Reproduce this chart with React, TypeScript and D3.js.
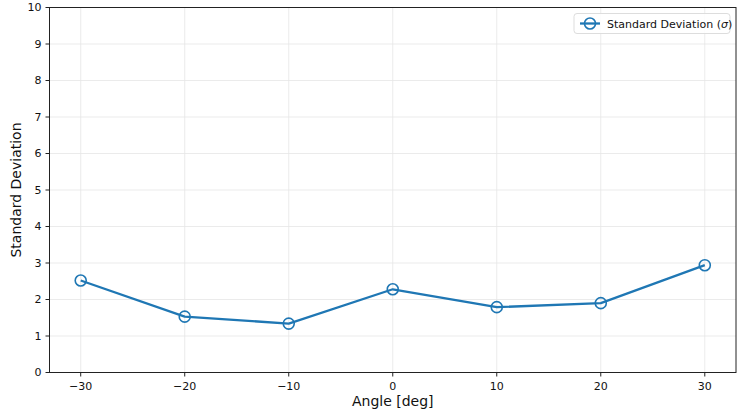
import React from "react";
import { scaleLinear, line } from "d3";

const angles = [-30, -20, -10, 0, 10, 20, 30];
const stdValues = [2.52, 1.53, 1.34, 2.28, 1.79, 1.9, 2.94];
const xTicks = [-30, -20, -10, 0, 10, 20, 30];
const yTicks = [0, 1, 2, 3, 4, 5, 6, 7, 8, 9, 10];

const W = 747;
const H = 419;
const margin = { top: 7.5, right: 11, bottom: 46.5, left: 49.5 };
const BLUE = "#1f77b4";
const FONT = "DejaVu Sans, sans-serif";

export default function App() {
  const iw = W - margin.left - margin.right;
  const ih = H - margin.top - margin.bottom;

  const x = scaleLinear().domain([-33, 33]).range([0, iw]);
  const y = scaleLinear().domain([0, 10]).range([ih, 0]);

  const pts = angles.map((a, i) => [a, stdValues[i]] as [number, number]);
  const path = line<[number, number]>()
    .x((d) => x(d[0]))
    .y((d) => y(d[1]))(pts);

  const fmt = (v: number) => (v < 0 ? "\u2212" + Math.abs(v) : String(v));

  return (
    <svg
      width={W}
      height={H}
      style={{ position: "absolute", left: 0, top: 0, background: "#fff" }}
      fontFamily={FONT}
    >
      <g transform={`translate(${margin.left},${margin.top})`}>
        {/* grid */}
        {xTicks.map((t) => (
          <line key={`gx${t}`} x1={x(t)} x2={x(t)} y1={0} y2={ih} stroke="#e6e6e6" strokeWidth={0.8} />
        ))}
        {yTicks.map((t) => (
          <line key={`gy${t}`} x1={0} x2={iw} y1={y(t)} y2={y(t)} stroke="#e6e6e6" strokeWidth={0.8} />
        ))}

        {/* data */}
        <path d={path ?? ""} fill="none" stroke={BLUE} strokeWidth={2.3} strokeLinejoin="round" />
        {pts.map(([a, v]) => (
          <circle key={a} cx={x(a)} cy={y(v)} r={5.5} fill="none" stroke={BLUE} strokeWidth={1.6} />
        ))}

        {/* frame */}
        <rect x={0} y={0} width={iw} height={ih} fill="none" stroke="#222" strokeWidth={1} />

        {/* x ticks */}
        {xTicks.map((t) => (
          <g key={`tx${t}`} transform={`translate(${x(t)},${ih})`}>
            <line y1={0} y2={4} stroke="#222" />
            <text y={17} textAnchor="middle" fontSize={11} fill="#111">
              {fmt(t)}
            </text>
          </g>
        ))}
        {/* y ticks */}
        {yTicks.map((t) => (
          <g key={`ty${t}`} transform={`translate(0,${y(t)})`}>
            <line x1={-4} x2={0} stroke="#222" />
            <text x={-8} dy="0.35em" textAnchor="end" fontSize={11} fill="#111">
              {t}
            </text>
          </g>
        ))}

        {/* axis labels */}
        <text x={iw / 2} y={ih + 33} textAnchor="middle" fontSize={14} fill="#111">
          Angle [deg]
        </text>
        <text
          transform={`translate(${-29},${ih / 2}) rotate(-90)`}
          textAnchor="middle"
          fontSize={14}
          fill="#111"
        >
          Standard Deviation
        </text>

        {/* legend */}
        <g transform={`translate(${iw - 162},6)`}>
          <rect x={0} y={0} width={156} height={20} rx={3} fill="#fff" fillOpacity={0.85} stroke="#ddd" />
          <line x1={6} x2={26} y1={10} y2={10} stroke={BLUE} strokeWidth={2.3} />
          <circle cx={16} cy={10} r={5.5} fill="none" stroke={BLUE} strokeWidth={1.6} />
          <text x={33} y={14} fontSize={11} fill="#111">
            Standard Deviation (<tspan fontStyle="italic">σ</tspan>)
          </text>
        </g>
      </g>
    </svg>
  );
}
